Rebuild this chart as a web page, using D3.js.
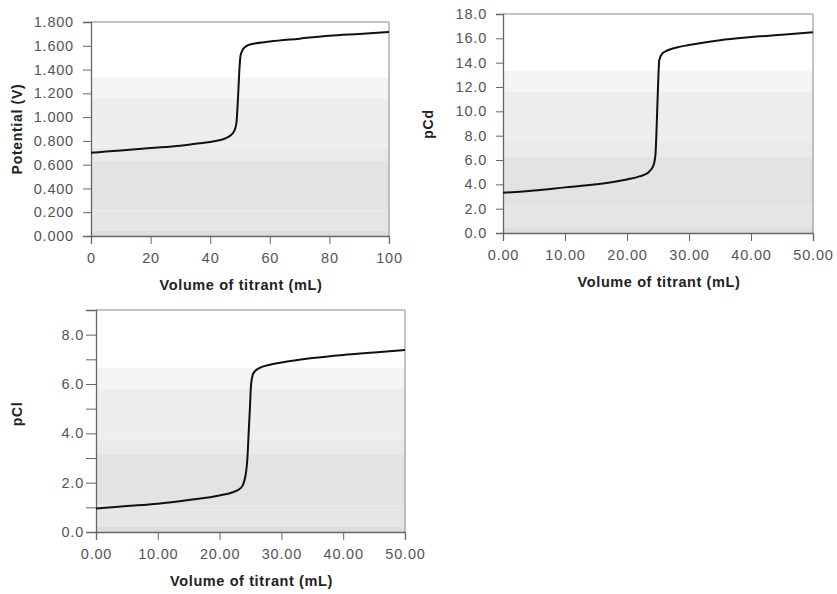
<!DOCTYPE html>
<html>
<head>
<meta charset="utf-8">
<script src="https://cdn.jsdelivr.net/npm/d3@7"></script>
<style>
  body { margin: 0; background: #fff; }
  svg text { font-family: Arial, "Liberation Sans", sans-serif; }
</style>
</head>
<body>
<div id="chart"></div>
<script>
// Chart 1: potential vs volume
var potVolume = [0, 5, 10, 20, 30, 35, 40, 43, 45, 47, 48, 48.8, 49.2, 49.5, 49.8, 50.2, 51, 52, 54, 60, 70, 80, 90, 100];
var potValue  = [0.70, 0.71, 0.72, 0.74, 0.76, 0.775, 0.79, 0.805, 0.82, 0.85, 0.88, 0.95, 1.10, 1.25, 1.40, 1.52, 1.57, 1.595, 1.615, 1.635, 1.66, 1.685, 1.70, 1.715];
var potTicksY = [0, 0.2, 0.4, 0.6, 0.8, 1.0, 1.2, 1.4, 1.6, 1.8];
var potTicksX = [0, 20, 40, 60, 80, 100];

// Chart 2: pCd vs volume
var cdVolume = [0, 5, 10, 15, 20, 22, 23.5, 24.3, 24.6, 24.8, 25.0, 25.2, 25.6, 26.5, 28, 30, 35, 40, 45, 50];
var cdValue  = [3.3, 3.5, 3.75, 4.0, 4.4, 4.65, 5.0, 5.6, 6.5, 9.0, 12.0, 14.2, 14.7, 15.0, 15.25, 15.45, 15.85, 16.1, 16.3, 16.5];
var cdTicksY = [0, 2, 4, 6, 8, 10, 12, 14, 16, 18];

// Chart 3: pCl vs volume
var clVolume = [0, 5, 10, 15, 20, 22, 23.5, 24.2, 24.5, 24.7, 24.9, 25.1, 25.5, 26.5, 28, 30, 35, 40, 45, 50];
var clValue  = [0.95, 1.05, 1.15, 1.3, 1.48, 1.6, 1.8, 2.3, 3.0, 4.0, 5.0, 6.0, 6.45, 6.65, 6.77, 6.87, 7.05, 7.18, 7.28, 7.38];
var clTicksY = [0, 1, 2, 3, 4, 5, 6, 7, 8, 9];

var halfTicksX = [0, 10, 20, 30, 40, 50];

var svg = d3.select("#chart").append("svg")
    .attr("width", 837)
    .attr("height", 594);

// background bands (fraction of plot height, from top)
var bandStops = [0, 0.26, 0.355, 0.585, 0.65, 0.88, 0.975, 1];
var bandColors = ["#ffffff", "#f4f4f4", "#eeeeee", "#eaeaea", "#e3e3e3", "#e6e6e6", "#dedede"];

function drawChart(opt) {
    var x = d3.scaleLinear().domain(opt.xDomain).range([opt.left, opt.right]);
    var y = d3.scaleLinear().domain(opt.yDomain).range([opt.bottom, opt.top]);
    var h = opt.bottom - opt.top;
    var g = svg.append("g");

    // bands
    for (var i = 0; i < bandColors.length; i++) {
        g.append("rect")
            .attr("x", opt.left)
            .attr("y", opt.top + bandStops[i] * h)
            .attr("width", opt.right - opt.left)
            .attr("height", (bandStops[i + 1] - bandStops[i]) * h)
            .attr("fill", bandColors[i]);
    }

    // frame top/right
    g.append("path")
        .attr("d", `M${opt.left},${opt.top}H${opt.right}V${opt.bottom}`)
        .attr("fill", "none")
        .attr("stroke", "#8a8a8a")
        .attr("stroke-width", 1);

    // y axis
    var yAxis = d3.axisLeft(y)
        .tickValues(opt.yTicks)
        .tickSize(opt.yTickSize)
        .tickPadding(opt.yPad)
        .tickFormat(opt.yFormat);
    var ya = g.append("g")
        .attr("transform", `translate(${opt.left},0)`)
        .call(yAxis);

    // x axis
    var xAxis = d3.axisBottom(x)
        .tickValues(opt.xTicks)
        .tickSize(8)
        .tickPadding(9)
        .tickFormat(opt.xFormat);
    var xa = g.append("g")
        .attr("transform", `translate(0,${opt.bottom})`)
        .call(xAxis);

    [ya, xa].forEach(function (a) {
        a.select(".domain").attr("stroke", "#666").attr("stroke-width", 1.3);
        a.selectAll(".tick line").attr("stroke", "#666");
        a.selectAll(".tick text")
            .attr("fill", "#555")
            .style("font-size", "14.5px")
            .style("letter-spacing", "0.8px");
    });

    // curve
    var pts = opt.xs.map((v, i) => [v, opt.ys[i]]);
    g.append("path")
        .datum(pts)
        .attr("fill", "none")
        .attr("stroke", "#111")
        .attr("stroke-width", 2)
        .attr("d", d3.line()
            .x(d => x(d[0]))
            .y(d => y(d[1]))
            .curve(d3.curveMonotoneX));

    // titles
    g.append("text")
        .attr("x", (opt.left + opt.right) / 2 + 1)
        .attr("y", opt.bottom + 54)
        .attr("text-anchor", "middle")
        .attr("fill", "#222")
        .style("font-size", "14.5px")
        .style("font-weight", "bold")
        .style("letter-spacing", "0.6px")
        .text("Volume of titrant (mL)");

    g.append("text")
        .attr("transform", `translate(${opt.yTitleX},${opt.yTitleY}) rotate(-90)`)
        .attr("text-anchor", "middle")
        .attr("fill", "#222")
        .style("font-size", "14px")
        .style("font-weight", "bold")
        .style("letter-spacing", "0.7px")
        .text(opt.yTitle);
}

drawChart({
    left: 91, right: 389, top: 22, bottom: 236,
    xDomain: [0, 100], yDomain: [0, 1.8],
    xTicks: potTicksX, yTicks: potTicksY,
    xFormat: d3.format("d"), yFormat: d3.format(".3f"),
    yTickSize: 8, yPad: 9,
    xs: potVolume, ys: potValue,
    yTitle: "Potential (V)", yTitleX: 22, yTitleY: 129
});

drawChart({
    left: 503, right: 813, top: 14, bottom: 233,
    xDomain: [0, 50], yDomain: [0, 18],
    xTicks: halfTicksX, yTicks: cdTicksY,
    xFormat: d3.format(".2f"), yFormat: d3.format(".1f"),
    yTickSize: 7, yPad: 9,
    xs: cdVolume, ys: cdValue,
    yTitle: "pCd", yTitleX: 433, yTitleY: 124
});

drawChart({
    left: 96, right: 405, top: 310, bottom: 532,
    xDomain: [0, 50], yDomain: [0, 9],
    xTicks: halfTicksX, yTicks: clTicksY,
    xFormat: d3.format(".2f"),
    yFormat: d => (d % 2 === 0 ? d3.format(".1f")(d) : ""),
    yTickSize: 10, yPad: 2,
    xs: clVolume, ys: clValue,
    yTitle: "pCl", yTitleX: 22, yTitleY: 414
});
</script>
</body>
</html>
